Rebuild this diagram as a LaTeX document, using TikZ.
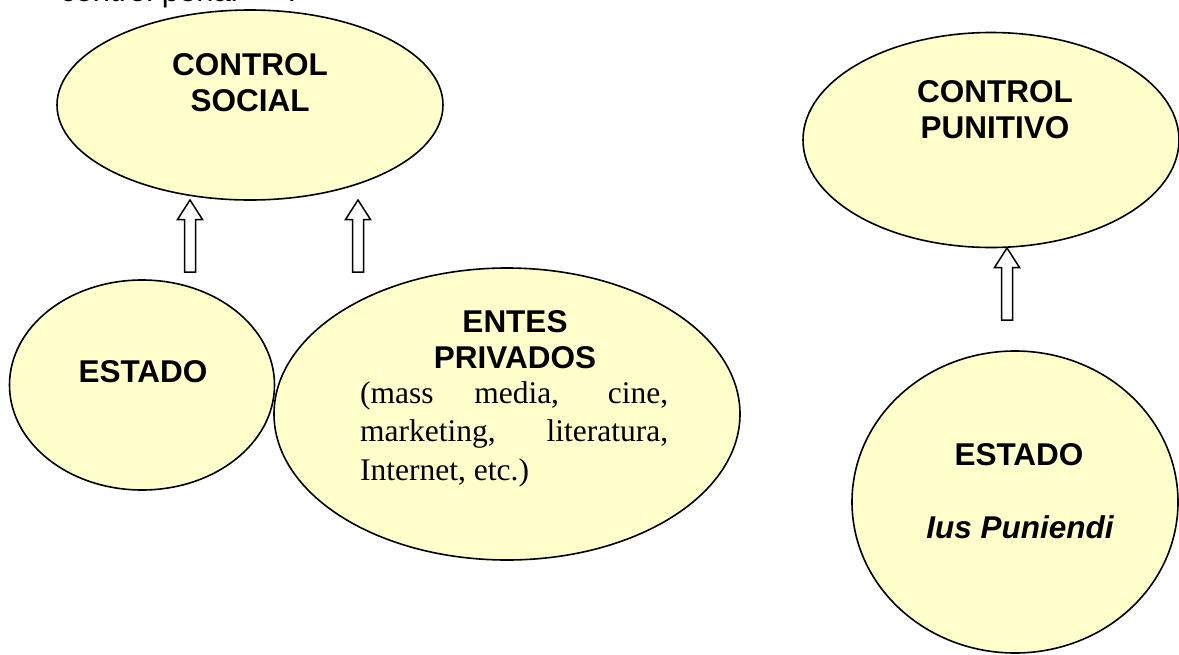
\documentclass[tikz,border=0pt]{standalone}
\usepackage{fontspec}
\setmainfont{Liberation Serif}
\setsansfont{Liberation Sans}
\usetikzlibrary{shapes.geometric}
\definecolor{ellfill}{HTML}{FFFFCC}
\begin{document}
\begin{tikzpicture}[x=1pt, y=-1pt]
		\def\shaft{5.5}
		\def\head{12.5}
		\def\headlen{19.5}

		\tikzset{
			basic/.style={ellipse, draw=black, line width=1.6pt, fill=ellfill, inner sep=0pt},
			title/.style={font=\sffamily\bfseries\fontsize{31.5}{36}\selectfont, align=center, inner sep=0pt, anchor=base},
			plain/.style={font=\rmfamily\fontsize{31.5}{38.5}\selectfont, inner sep=0pt, anchor=base west},
			blockarrow/.style={draw=black, line width=1.5pt, fill=white, line join=miter}
		}

		\path[use as bounding box, clip] (0,0) rectangle (1179,654);

		% running text above the picture
		\node[font=\sffamily\fontsize{31}{36}\selectfont, inner sep=0pt, anchor=base west] (intro) at (60,1) {control penal\hspace{50pt}.};

		% ellipses
		\node[basic, minimum width=386, minimum height=190] (SOC) at (250,105) {};
		\node[basic, minimum width=265, minimum height=210] (EST_L) at (142,385) {};
		\node[basic, minimum width=466, minimum height=292] (PRIV) at (507,414) {};
		\node[basic, minimum width=376, minimum height=215] (PUN) at (991,140) {};
		\node[basic, minimum width=326, minimum height=302] (EST_R) at (1015,502) {};

		% texts (base = last line)
		\node[title] (SOC_t) at (250,111) {CONTROL\\SOCIAL};
		\node[title] (EST_L_t) at (143,382) {ESTADO};
		\node[title] (PRIV_t) at (515,368) {ENTES\\PRIVADOS};
		\node[plain] (PRIV_list) at (360,403) {\parbox[t]{308pt}{%
			\makebox[308pt][s]{(mass media, cine,}\\
			\makebox[308pt][s]{marketing, literatura,}\\
			Internet, etc.)}};
		\node[title] (PUN_t) at (995,138) {CONTROL\\PUNITIVO};
		\node[title] (EST_R_t) at (1019,465) {ESTADO};
		\node[title, font=\sffamily\bfseries\itshape\fontsize{31.5}{36}\selectfont] (IUS_t) at (1020,538) {Ius Puniendi};

		% block arrows
		\foreach \x/\tip/\bot in {190/200/272, 358/200/272, 1007/248/320}{
			\draw[blockarrow] (\x,\tip) -- ++(\head,\headlen) -- ++(-\head+\shaft,0) |- (\x-\shaft,\bot)
				-- ++(0,\tip+\headlen-\bot) -- ++(-\head+\shaft,0) -- cycle;
		}
	\end{tikzpicture}
\end{document}
